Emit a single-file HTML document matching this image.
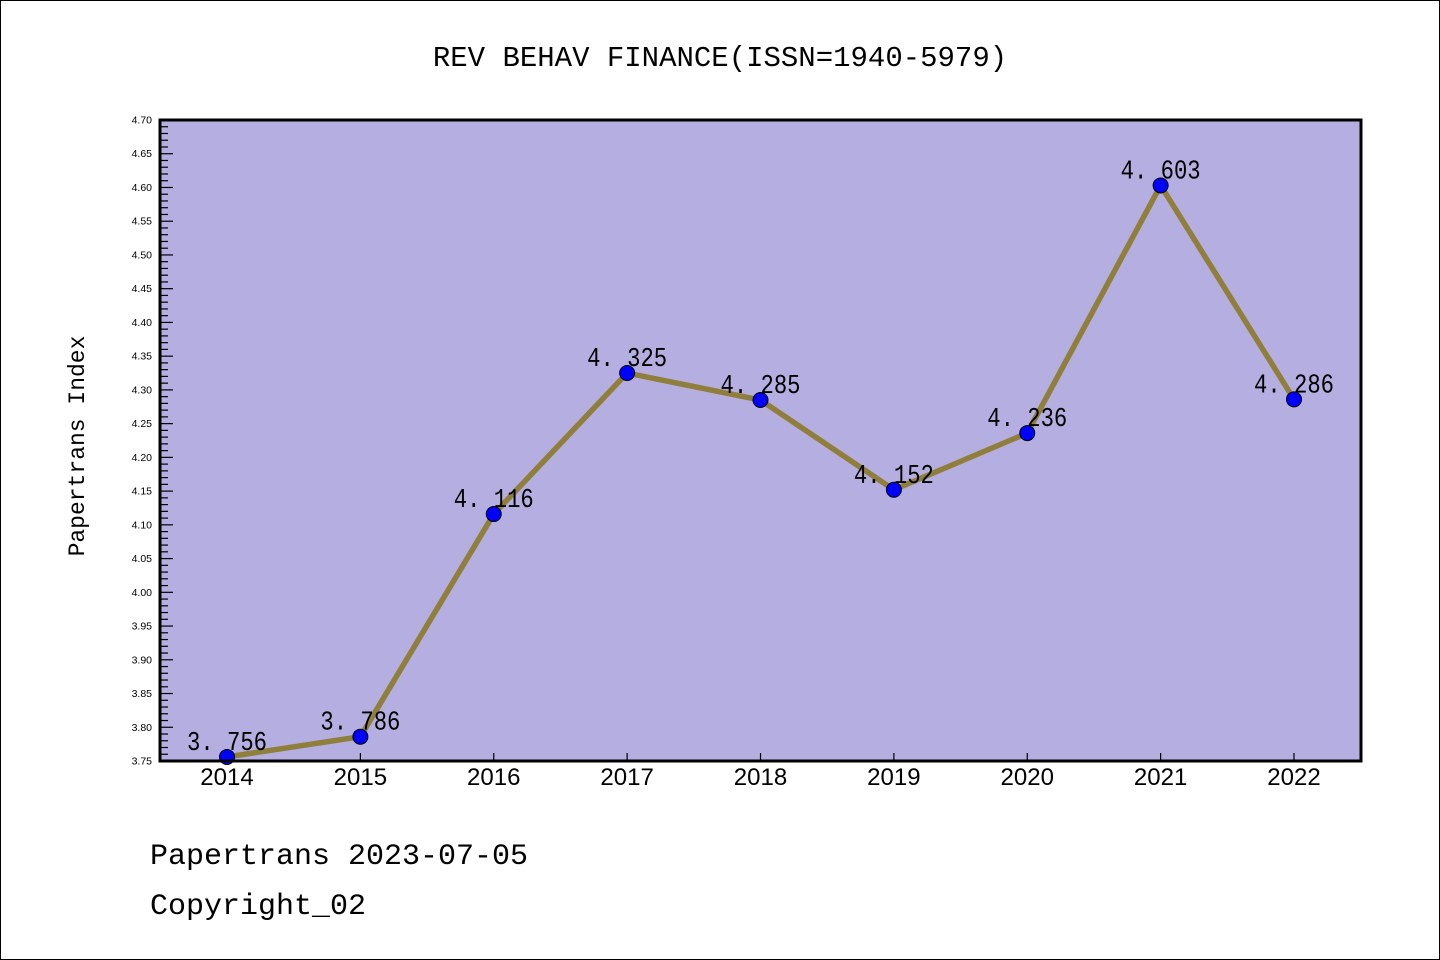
<!DOCTYPE html>
<html><head><meta charset="utf-8"><style>
html,body{margin:0;padding:0;background:#fff}
svg{display:block}
</style></head><body>
<svg id="chart" width="1440" height="960" xmlns="http://www.w3.org/2000/svg">
<rect x="0.5" y="0.5" width="1439" height="959" fill="#fff" stroke="#000"/>
<text x="720" y="66" text-anchor="middle" font-family="Liberation Mono, monospace" font-size="29">REV BEHAV FINANCE(ISSN=1940-5979)</text>
<rect x="160" y="120" width="1201" height="641" fill="#b5aee0"/>
<g id="yticks"></g><g id="xticks"></g><g id="series"></g>
<rect x="160" y="120" width="1201" height="641" fill="none" stroke="#000" stroke-width="3"/>
<text transform="translate(84,446) rotate(-90)" text-anchor="middle" font-family="Liberation Mono, monospace" font-size="23">Papertrans Index</text>
<text x="150" y="864" font-family="Liberation Mono, monospace" font-size="30">Papertrans 2023-07-05</text>
<text x="150" y="914" font-family="Liberation Mono, monospace" font-size="30">Copyright_02</text>
</svg>
<script>
const categories = ["2014","2015","2016","2017","2018","2019","2020","2021","2022"];
const values = [3.756,3.786,4.116,4.325,4.285,4.152,4.236,4.603,4.286];
const yMin = 3.75, yMax = 4.70;
const NS = "http://www.w3.org/2000/svg";
function yScale(v){return 761 - (v - yMin)/(yMax - yMin)*641;}
function xScale(i){return 227 + i*(1294-227)/(categories.length-1);}
function mk(tag, attrs, parent){const e=document.createElementNS(NS,tag);for(const k in attrs)e.setAttribute(k,attrs[k]);parent.appendChild(e);return e;}
const yt=document.getElementById('yticks');
for(let k=0;k<=Math.round((yMax-yMin)*100);k++){
  const v=yMin+k*0.01, y=yScale(v), major=(k%5===0);
  const l=mk('line',{x1:160,x2:major?173:168,y1:y,y2:y,stroke:'#000','stroke-width':1.2},yt);
  
  
  if(major){
    const t=mk('text',{x:152,y:y+3.5,'text-anchor':'end','font-family':'Liberation Sans, sans-serif','font-size':10.5},yt);
    t.textContent=v.toFixed(2);
    
    
  }
}
const xt=document.getElementById('xticks');
categories.forEach((c,i)=>{
  const x=xScale(i);
  const l=mk('line',{x1:x,x2:x,y1:761,y2:753,stroke:'#000','stroke-width':1.2},xt);
  
  
  const t=mk('text',{x:x,y:785,'text-anchor':'middle','font-family':'Liberation Sans, sans-serif','font-size':24},xt);
  t.textContent=c;
  
  
});
const s=document.getElementById('series');
const pts=values.map((v,i)=>xScale(i)+','+yScale(v)).join(' ');
const pl=mk('polyline',{points:pts,fill:'none',stroke:'#8f7f3a','stroke-width':5.5,'stroke-linejoin':'round'},s);


values.forEach((v,i)=>{
  const c=mk('circle',{cx:xScale(i),cy:yScale(v),r:7.5,fill:'#0000ff',stroke:'#000','stroke-width':1},s);
  
  
  const t=mk('text',{x:xScale(i),y:yScale(v)-7,'text-anchor':'middle','font-family':'Liberation Mono, monospace','font-size':27,textLength:80,lengthAdjust:'spacingAndGlyphs'},s);
  t.textContent=v.toFixed(3).replace('.','. ');
  
  
});
</script>
</body></html>
